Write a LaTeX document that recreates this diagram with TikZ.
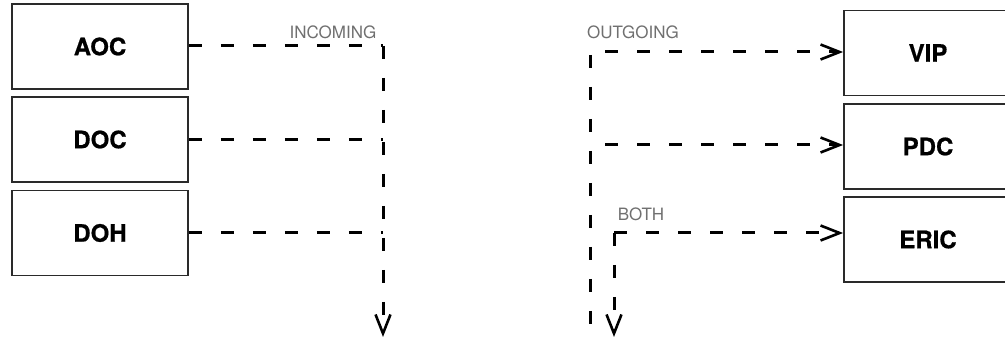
\documentclass[tikz,border=0pt]{standalone}
\usepackage{fontspec}
\setmainfont{TeX Gyre Heros}
\usetikzlibrary{arrows.meta,calc}
\definecolor{labelgray}{HTML}{707070}
\definecolor{boxline}{HTML}{2A2A2A}
\tikzset{
  unitbox/.style={draw=boxline, line width=1.8pt, fill=white, minimum width=176pt,
    minimum height=85pt, inner sep=0pt,
    font=\fontsize{24}{28}\selectfont\bfseries\addfontfeature{FakeBold=0.6}},
  flowline/.style={line width=3pt, dash pattern=on 13pt off 19pt},
  flowarrow/.style={flowline, -{Straight Barb[length=19pt,width=15pt,line width=2.6pt]}},
  flowtag/.style={text=labelgray, font=\fontsize{17}{20}\selectfont, inner sep=0pt}
}
\begin{document}
\begin{tikzpicture}[x=1pt,y=-1pt]
\clip (0,0) rectangle (1005,339);
\fill[white] (0,0) rectangle (1005,339);

% sending units
\node[unitbox] (aoc) at (100,46.5) {AOC};
\node[unitbox] (doc) at (100,139.5) {DOC};
\node[unitbox] (doh) at (100,233) {DOH};

% receiving units
\node[unitbox, minimum width=168pt] (vip) at (928,53) {VIP};
\node[unitbox, minimum width=168pt] (pdc) at (928,146.5) {PDC};
\node[unitbox, minimum width=168pt] (eric) at (928,239.5) {ERIC};

% incoming bus
\coordinate (inc) at (383,46);
\coordinate (incEnd) at (383,337);
\draw[flowline] (aoc.east |- inc) -- (inc);
\draw[flowarrow] (inc) -- (incEnd);
\draw[flowline] (doc.east) -- (doc.east -| inc);
\draw[flowline] (doh.east) -- (doh.east -| inc);

% outgoing bus: trunk and branches start apart, no closed corner
\coordinate (out) at (590,55);
\coordinate (outEnd) at (590,352);
\coordinate (outVip) at (605,52);
\coordinate (outPdc) at (605,145);
\draw[flowline] (out) -- (outEnd);
\draw[flowarrow] (outVip) -- (outVip -| vip.west);
\draw[flowarrow] (outPdc) -- (outPdc -| pdc.west);

% both directions
\coordinate (both) at (614,233);
\coordinate (bothEnd) at (614,337);
\draw[flowarrow] (both) -- (both -| eric.west);
\draw[flowarrow] (both) -- (bothEnd);

% labels
\node[flowtag] (tagIn) at (333,32) {INCOMING};
\node[flowtag] (tagOut) at (633,32) {OUTGOING};
\node[flowtag] (tagBoth) at (641,214) {BOTH};
\end{tikzpicture}
\end{document}
